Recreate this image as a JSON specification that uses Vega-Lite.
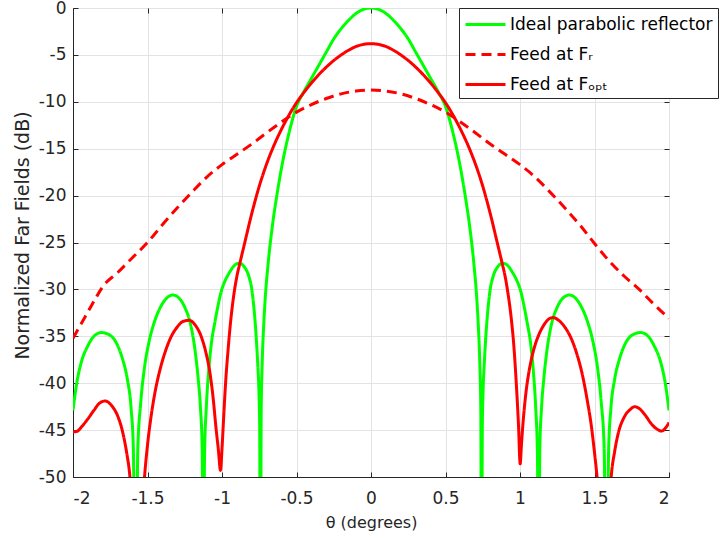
{
  "$schema": "https://vega.github.io/schema/vega-lite/v6.json",
  "width": 596,
  "height": 469,
  "autosize": "none",
  "padding": {"left": 73, "top": 8, "right": 51, "bottom": 61},
  "background": "white",
  "config": {
    "font": "DejaVu Sans",
    "view": {"stroke": "#262626", "strokeWidth": 1},
    "axis": {
      "labelFont": "DejaVu Sans",
      "labelFontSize": 17,
      "labelColor": "#262626",
      "titleFont": "DejaVu Sans",
      "titleFontSize": 16,
      "titleFontWeight": "normal",
      "titleColor": "#262626",
      "domainColor": "#262626",
      "tickColor": "#262626",
      "tickSize": -5,
      "gridColor": "#e3e3e3",
      "gridOpacity": 1
    }
  },
  "data": {
    "values": [
      {"s": "g", "t": -2.0, "v": -42.9}, {"s": "g", "t": -1.975, "v": -40.0}, {"s": "g", "t": -1.945, "v": -37.8}, {"s": "g", "t": -1.9, "v": -36.0}, {"s": "g", "t": -1.86, "v": -35.0}, {"s": "g", "t": -1.81, "v": -34.6}, {"s": "g", "t": -1.75, "v": -34.9}, {"s": "g", "t": -1.7, "v": -36.0}, {"s": "g", "t": -1.666, "v": -37.5}, {"s": "g", "t": -1.635, "v": -39.6}, {"s": "g", "t": -1.61, "v": -42.7}, {"s": "g", "t": -1.595, "v": -47}, {"s": "g", "t": -1.58, "v": -70}, {"s": "g", "t": -1.565, "v": -47}, {"s": "g", "t": -1.545, "v": -42}, {"s": "g", "t": -1.52, "v": -38.3}, {"s": "g", "t": -1.49, "v": -35.6}, {"s": "g", "t": -1.45, "v": -33.3}, {"s": "g", "t": -1.41, "v": -31.8}, {"s": "g", "t": -1.37, "v": -30.9}, {"s": "g", "t": -1.33, "v": -30.6}, {"s": "g", "t": -1.29, "v": -30.9}, {"s": "g", "t": -1.25, "v": -31.9}, {"s": "g", "t": -1.21, "v": -33.8}, {"s": "g", "t": -1.18, "v": -36.6}, {"s": "g", "t": -1.16, "v": -39.5}, {"s": "g", "t": -1.145, "v": -42.5}, {"s": "g", "t": -1.133, "v": -47}, {"s": "g", "t": -1.125, "v": -70}, {"s": "g", "t": -1.117, "v": -47.5}, {"s": "g", "t": -1.105, "v": -42.5}, {"s": "g", "t": -1.09, "v": -38.8}, {"s": "g", "t": -1.07, "v": -35.6}, {"s": "g", "t": -1.05, "v": -33.7}, {"s": "g", "t": -1.03, "v": -32.0}, {"s": "g", "t": -1.005, "v": -30.2}, {"s": "g", "t": -0.98, "v": -29.1}, {"s": "g", "t": -0.95, "v": -28.2}, {"s": "g", "t": -0.92, "v": -27.5}, {"s": "g", "t": -0.885, "v": -27.2}, {"s": "g", "t": -0.85, "v": -27.6}, {"s": "g", "t": -0.82, "v": -28.6}, {"s": "g", "t": -0.8, "v": -30.0}, {"s": "g", "t": -0.79, "v": -31.3}, {"s": "g", "t": -0.78, "v": -33.0}, {"s": "g", "t": -0.77, "v": -35.2}, {"s": "g", "t": -0.76, "v": -38}, {"s": "g", "t": -0.752, "v": -41}, {"s": "g", "t": -0.747, "v": -45}, {"s": "g", "t": -0.742, "v": -70}, {"s": "g", "t": -0.737, "v": -43}, {"s": "g", "t": -0.73, "v": -37.8}, {"s": "g", "t": -0.72, "v": -33.8}, {"s": "g", "t": -0.71, "v": -31.0}, {"s": "g", "t": -0.69, "v": -27.2}, {"s": "g", "t": -0.66, "v": -23.0}, {"s": "g", "t": -0.63, "v": -19.8}, {"s": "g", "t": -0.6, "v": -17.0}, {"s": "g", "t": -0.55, "v": -13.3}, {"s": "g", "t": -0.5, "v": -10.5}, {"s": "g", "t": -0.45, "v": -8.9}, {"s": "g", "t": -0.4, "v": -7.5}, {"s": "g", "t": -0.35, "v": -6.1}, {"s": "g", "t": -0.3, "v": -4.7}, {"s": "g", "t": -0.25, "v": -3.3}, {"s": "g", "t": -0.2, "v": -2.2}, {"s": "g", "t": -0.15, "v": -1.3}, {"s": "g", "t": -0.1, "v": -0.58}, {"s": "g", "t": -0.05, "v": -0.14}, {"s": "g", "t": 0, "v": 0},
      {"s": "g", "t": 0.05, "v": -0.14}, {"s": "g", "t": 0.1, "v": -0.58}, {"s": "g", "t": 0.15, "v": -1.3}, {"s": "g", "t": 0.2, "v": -2.2}, {"s": "g", "t": 0.25, "v": -3.3}, {"s": "g", "t": 0.3, "v": -4.7}, {"s": "g", "t": 0.35, "v": -6.1}, {"s": "g", "t": 0.4, "v": -7.5}, {"s": "g", "t": 0.45, "v": -8.9}, {"s": "g", "t": 0.5, "v": -10.5}, {"s": "g", "t": 0.55, "v": -13.3}, {"s": "g", "t": 0.6, "v": -17.0}, {"s": "g", "t": 0.63, "v": -19.8}, {"s": "g", "t": 0.66, "v": -23.0}, {"s": "g", "t": 0.69, "v": -27.2}, {"s": "g", "t": 0.71, "v": -31.0}, {"s": "g", "t": 0.72, "v": -33.8}, {"s": "g", "t": 0.73, "v": -37.8}, {"s": "g", "t": 0.737, "v": -43}, {"s": "g", "t": 0.742, "v": -70}, {"s": "g", "t": 0.747, "v": -45}, {"s": "g", "t": 0.752, "v": -41}, {"s": "g", "t": 0.76, "v": -38}, {"s": "g", "t": 0.77, "v": -35.2}, {"s": "g", "t": 0.78, "v": -33.0}, {"s": "g", "t": 0.79, "v": -31.3}, {"s": "g", "t": 0.8, "v": -30.0}, {"s": "g", "t": 0.82, "v": -28.6}, {"s": "g", "t": 0.85, "v": -27.6}, {"s": "g", "t": 0.885, "v": -27.2}, {"s": "g", "t": 0.92, "v": -27.5}, {"s": "g", "t": 0.95, "v": -28.2}, {"s": "g", "t": 0.98, "v": -29.1}, {"s": "g", "t": 1.005, "v": -30.2}, {"s": "g", "t": 1.03, "v": -32.0}, {"s": "g", "t": 1.05, "v": -33.7}, {"s": "g", "t": 1.07, "v": -35.6}, {"s": "g", "t": 1.09, "v": -38.8}, {"s": "g", "t": 1.105, "v": -42.5}, {"s": "g", "t": 1.117, "v": -47.5}, {"s": "g", "t": 1.125, "v": -70}, {"s": "g", "t": 1.133, "v": -47}, {"s": "g", "t": 1.145, "v": -42.5}, {"s": "g", "t": 1.16, "v": -39.5}, {"s": "g", "t": 1.18, "v": -36.6}, {"s": "g", "t": 1.21, "v": -33.8}, {"s": "g", "t": 1.25, "v": -31.9}, {"s": "g", "t": 1.29, "v": -30.9}, {"s": "g", "t": 1.33, "v": -30.6}, {"s": "g", "t": 1.37, "v": -30.9}, {"s": "g", "t": 1.41, "v": -31.8}, {"s": "g", "t": 1.45, "v": -33.3}, {"s": "g", "t": 1.49, "v": -35.6}, {"s": "g", "t": 1.52, "v": -38.3}, {"s": "g", "t": 1.545, "v": -42}, {"s": "g", "t": 1.565, "v": -47}, {"s": "g", "t": 1.58, "v": -70}, {"s": "g", "t": 1.595, "v": -47}, {"s": "g", "t": 1.61, "v": -42.7}, {"s": "g", "t": 1.635, "v": -39.6}, {"s": "g", "t": 1.666, "v": -37.5}, {"s": "g", "t": 1.7, "v": -36.0}, {"s": "g", "t": 1.75, "v": -34.9}, {"s": "g", "t": 1.81, "v": -34.6}, {"s": "g", "t": 1.86, "v": -35.0}, {"s": "g", "t": 1.9, "v": -36.0}, {"s": "g", "t": 1.945, "v": -37.8}, {"s": "g", "t": 1.975, "v": -40.0}, {"s": "g", "t": 2.0, "v": -42.9},
      {"s": "d", "t": -2.0, "v": -35.2}, {"s": "d", "t": -1.95, "v": -33.8}, {"s": "d", "t": -1.9, "v": -32.4}, {"s": "d", "t": -1.85, "v": -31.0}, {"s": "d", "t": -1.8, "v": -29.7}, {"s": "d", "t": -1.7, "v": -28.2}, {"s": "d", "t": -1.6, "v": -26.6}, {"s": "d", "t": -1.5, "v": -25.0}, {"s": "d", "t": -1.4, "v": -23.1}, {"s": "d", "t": -1.3, "v": -21.3}, {"s": "d", "t": -1.2, "v": -19.6}, {"s": "d", "t": -1.1, "v": -18.0}, {"s": "d", "t": -1.0, "v": -16.7}, {"s": "d", "t": -0.9, "v": -15.6}, {"s": "d", "t": -0.8, "v": -14.5}, {"s": "d", "t": -0.7, "v": -13.3}, {"s": "d", "t": -0.6, "v": -12.15}, {"s": "d", "t": -0.5, "v": -11.1}, {"s": "d", "t": -0.4, "v": -10.3}, {"s": "d", "t": -0.3, "v": -9.65}, {"s": "d", "t": -0.2, "v": -9.15}, {"s": "d", "t": -0.1, "v": -8.85}, {"s": "d", "t": 0, "v": -8.75}, {"s": "d", "t": 0.1, "v": -8.85}, {"s": "d", "t": 0.2, "v": -9.15}, {"s": "d", "t": 0.3, "v": -9.65}, {"s": "d", "t": 0.4, "v": -10.3}, {"s": "d", "t": 0.5, "v": -11.1}, {"s": "d", "t": 0.6, "v": -12.15}, {"s": "d", "t": 0.7, "v": -13.3}, {"s": "d", "t": 0.8, "v": -14.5}, {"s": "d", "t": 0.9, "v": -15.6}, {"s": "d", "t": 1.0, "v": -16.7}, {"s": "d", "t": 1.1, "v": -18.0}, {"s": "d", "t": 1.2, "v": -19.6}, {"s": "d", "t": 1.3, "v": -21.3}, {"s": "d", "t": 1.4, "v": -23.1}, {"s": "d", "t": 1.5, "v": -25.1}, {"s": "d", "t": 1.6, "v": -27.0}, {"s": "d", "t": 1.7, "v": -28.6}, {"s": "d", "t": 1.8, "v": -30.0}, {"s": "d", "t": 1.9, "v": -31.6}, {"s": "d", "t": 2.0, "v": -33.1},
      {"s": "r", "t": -2.0, "v": -45.2}, {"s": "r", "t": -1.97, "v": -45.1}, {"s": "r", "t": -1.94, "v": -44.6}, {"s": "r", "t": -1.9, "v": -43.8}, {"s": "r", "t": -1.86, "v": -42.9}, {"s": "r", "t": -1.82, "v": -42.1}, {"s": "r", "t": -1.785, "v": -41.9}, {"s": "r", "t": -1.74, "v": -42.4}, {"s": "r", "t": -1.7, "v": -43.5}, {"s": "r", "t": -1.67, "v": -45.0}, {"s": "r", "t": -1.64, "v": -47.4}, {"s": "r", "t": -1.618, "v": -50.0}, {"s": "r", "t": -1.595, "v": -56}, {"s": "r", "t": -1.57, "v": -66}, {"s": "r", "t": -1.545, "v": -56}, {"s": "r", "t": -1.52, "v": -50.0}, {"s": "r", "t": -1.5, "v": -46.6}, {"s": "r", "t": -1.48, "v": -44.0}, {"s": "r", "t": -1.45, "v": -41.0}, {"s": "r", "t": -1.42, "v": -38.8}, {"s": "r", "t": -1.38, "v": -36.6}, {"s": "r", "t": -1.34, "v": -35.0}, {"s": "r", "t": -1.3, "v": -34.0}, {"s": "r", "t": -1.26, "v": -33.4}, {"s": "r", "t": -1.22, "v": -33.3}, {"s": "r", "t": -1.18, "v": -33.8}, {"s": "r", "t": -1.14, "v": -35.0}, {"s": "r", "t": -1.11, "v": -36.6}, {"s": "r", "t": -1.08, "v": -39.0}, {"s": "r", "t": -1.06, "v": -41.5}, {"s": "r", "t": -1.04, "v": -44.8}, {"s": "r", "t": -1.025, "v": -47.0}, {"s": "r", "t": -1.01, "v": -49.3}, {"s": "r", "t": -1.0, "v": -47.0}, {"s": "r", "t": -0.99, "v": -44.0}, {"s": "r", "t": -0.976, "v": -40.0}, {"s": "r", "t": -0.96, "v": -36.6}, {"s": "r", "t": -0.94, "v": -33.1}, {"s": "r", "t": -0.92, "v": -30.5}, {"s": "r", "t": -0.9, "v": -28.6}, {"s": "r", "t": -0.88, "v": -27.2}, {"s": "r", "t": -0.85, "v": -25.2}, {"s": "r", "t": -0.8, "v": -21.9}, {"s": "r", "t": -0.75, "v": -19.0}, {"s": "r", "t": -0.7, "v": -16.6}, {"s": "r", "t": -0.65, "v": -14.6}, {"s": "r", "t": -0.6, "v": -12.9}, {"s": "r", "t": -0.55, "v": -11.4}, {"s": "r", "t": -0.5, "v": -10.1}, {"s": "r", "t": -0.45, "v": -9.0}, {"s": "r", "t": -0.4, "v": -8.0}, {"s": "r", "t": -0.35, "v": -7.1}, {"s": "r", "t": -0.3, "v": -6.3}, {"s": "r", "t": -0.25, "v": -5.6}, {"s": "r", "t": -0.2, "v": -5.0}, {"s": "r", "t": -0.15, "v": -4.5}, {"s": "r", "t": -0.1, "v": -4.1}, {"s": "r", "t": -0.05, "v": -3.88}, {"s": "r", "t": 0, "v": -3.8},
      {"s": "r", "t": 0.05, "v": -3.88}, {"s": "r", "t": 0.1, "v": -4.1}, {"s": "r", "t": 0.15, "v": -4.5}, {"s": "r", "t": 0.2, "v": -5.0}, {"s": "r", "t": 0.25, "v": -5.6}, {"s": "r", "t": 0.3, "v": -6.3}, {"s": "r", "t": 0.35, "v": -7.1}, {"s": "r", "t": 0.4, "v": -8.0}, {"s": "r", "t": 0.45, "v": -9.0}, {"s": "r", "t": 0.5, "v": -10.1}, {"s": "r", "t": 0.55, "v": -11.4}, {"s": "r", "t": 0.6, "v": -12.9}, {"s": "r", "t": 0.65, "v": -14.6}, {"s": "r", "t": 0.7, "v": -16.6}, {"s": "r", "t": 0.75, "v": -19.0}, {"s": "r", "t": 0.8, "v": -21.9}, {"s": "r", "t": 0.85, "v": -25.2}, {"s": "r", "t": 0.88, "v": -27.2}, {"s": "r", "t": 0.9, "v": -28.6}, {"s": "r", "t": 0.92, "v": -30.5}, {"s": "r", "t": 0.94, "v": -32.9}, {"s": "r", "t": 0.96, "v": -36.3}, {"s": "r", "t": 0.975, "v": -40.0}, {"s": "r", "t": 0.99, "v": -44.5}, {"s": "r", "t": 1.001, "v": -48.6}, {"s": "r", "t": 1.01, "v": -46.5}, {"s": "r", "t": 1.02, "v": -44.3}, {"s": "r", "t": 1.04, "v": -41.0}, {"s": "r", "t": 1.06, "v": -38.8}, {"s": "r", "t": 1.08, "v": -37.2}, {"s": "r", "t": 1.1, "v": -36.0}, {"s": "r", "t": 1.13, "v": -34.7}, {"s": "r", "t": 1.16, "v": -33.8}, {"s": "r", "t": 1.19, "v": -33.2}, {"s": "r", "t": 1.22, "v": -33.0}, {"s": "r", "t": 1.26, "v": -33.3}, {"s": "r", "t": 1.3, "v": -34.0}, {"s": "r", "t": 1.34, "v": -35.1}, {"s": "r", "t": 1.38, "v": -36.8}, {"s": "r", "t": 1.42, "v": -39.2}, {"s": "r", "t": 1.45, "v": -41.7}, {"s": "r", "t": 1.48, "v": -44.7}, {"s": "r", "t": 1.5, "v": -47.4}, {"s": "r", "t": 1.52, "v": -50.5}, {"s": "r", "t": 1.545, "v": -56}, {"s": "r", "t": 1.567, "v": -66}, {"s": "r", "t": 1.59, "v": -56}, {"s": "r", "t": 1.612, "v": -50.0}, {"s": "r", "t": 1.635, "v": -47.3}, {"s": "r", "t": 1.66, "v": -45.3}, {"s": "r", "t": 1.7, "v": -43.6}, {"s": "r", "t": 1.74, "v": -42.8}, {"s": "r", "t": 1.77, "v": -42.5}, {"s": "r", "t": 1.8, "v": -42.7}, {"s": "r", "t": 1.84, "v": -43.4}, {"s": "r", "t": 1.88, "v": -44.3}, {"s": "r", "t": 1.92, "v": -44.9}, {"s": "r", "t": 1.95, "v": -45.1}, {"s": "r", "t": 1.98, "v": -44.7}, {"s": "r", "t": 2.0, "v": -44.2}
    ]
  },
  "layer": [
    {
      "mark": {"type": "point", "opacity": 0},
      "encoding": {
        "x": {"field": "t", "type": "quantitative", "scale": {"domain": [-2, 2], "nice": false, "zero": false},
          "axis": {"orient": "top", "labels": false, "domain": false, "grid": false, "title": null, "values": [-2, -1.5, -1, -0.5, 0, 0.5, 1, 1.5, 2]}},
        "y": {"field": "v", "type": "quantitative", "scale": {"domain": [-50, 0], "nice": false, "zero": false},
          "axis": {"orient": "right", "labels": false, "domain": false, "grid": false, "title": null, "values": [-50, -45, -40, -35, -30, -25, -20, -15, -10, -5, 0]}}
      }
    },
    {
      "mark": {"type": "line", "strokeWidth": 3, "clip": true, "interpolate": "monotone"},
      "encoding": {
        "x": {"field": "t", "type": "quantitative", "scale": {"domain": [-2, 2], "nice": false, "zero": false},
          "axis": {"orient": "bottom", "title": "θ (degrees)", "values": [-2, -1.5, -1, -0.5, 0, 0.5, 1, 1.5, 2], "labelExpr": "'' + datum.value", "labelPadding": 18, "grid": true, "titleX": 298, "titleY": 45, "titleBaseline": "middle", "titleFontSize": 16}},
        "y": {"field": "v", "type": "quantitative", "scale": {"domain": [-50, 0], "nice": false, "zero": false},
          "axis": {"orient": "left", "title": "Normalized Far Fields (dB)", "values": [-50, -45, -40, -35, -30, -25, -20, -15, -10, -5, 0], "labelExpr": "'' + datum.value", "labelPadding": 12, "grid": true, "titleX": -51, "titleY": 227, "titleAngle": -90, "titleBaseline": "middle", "titleAlign": "center", "titleFontSize": 19}},
        "color": {"field": "s", "type": "nominal", "sort": ["g", "d", "r"],
          "scale": {"domain": ["g", "d", "r"], "range": ["#00ff00", "#ff0000", "#ff0000"]},
          "legend": {"orient": "none", "legendX": 386, "legendY": 0, "title": null, "fillColor": "white", "strokeColor": "#262626", "padding": 5, "labelFont": "DejaVu Sans", "labelFontSize": 17, "labelColor": "#000000", "labelLimit": 400, "symbolType": "M-2,0H2", "symbolSize": 400, "symbolOffset": 10, "symbolStrokeWidth": 3, "rowPadding": 10, "labelOffset": 13,
            "labelExpr": "datum.value == 'g' ? 'Ideal parabolic reflector' : datum.value == 'd' ? 'Feed at Fᵣ' : 'Feed at Fₒₚₜ'"}},
        "strokeDash": {"field": "s", "type": "nominal", "sort": ["g", "d", "r"],
          "scale": {"domain": ["g", "d", "r"], "range": [[1, 0], [10, 6], [1, 0]]},
          "legend": {"orient": "none", "legendX": 386, "legendY": 0, "title": null, "fillColor": "white", "strokeColor": "#262626", "padding": 5, "labelFont": "DejaVu Sans", "labelFontSize": 17, "labelColor": "#000000", "labelLimit": 400, "symbolType": "M-2,0H2", "symbolSize": 400, "symbolOffset": 10, "symbolStrokeWidth": 3, "rowPadding": 10, "labelOffset": 13,
            "labelExpr": "datum.value == 'g' ? 'Ideal parabolic reflector' : datum.value == 'd' ? 'Feed at Fᵣ' : 'Feed at Fₒₚₜ'"}}
      }
    }
  ],
  "resolve": {"axis": {"x": "independent", "y": "independent"}}
}
